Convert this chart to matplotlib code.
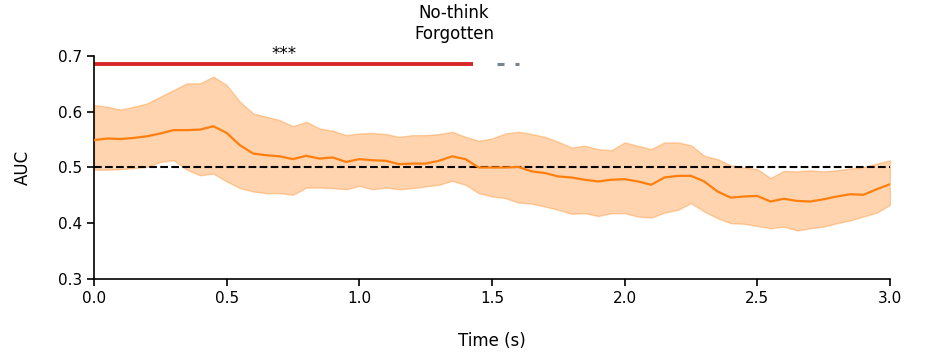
import matplotlib
matplotlib.use("Agg")
import matplotlib.pyplot as plt
import numpy as np

# time axis (s)
times = [0.0, 0.05, 0.1, 0.15, 0.2, 0.25, 0.3, 0.35, 0.4, 0.45, 0.5, 0.55, 0.6, 0.65, 0.7,
         0.75, 0.8, 0.85, 0.9, 0.95, 1.0, 1.05, 1.1, 1.15, 1.2, 1.25, 1.3, 1.35, 1.4, 1.45,
         1.5, 1.55, 1.6, 1.65, 1.7, 1.75, 1.8, 1.85, 1.9, 1.95, 2.0, 2.05, 2.1, 2.15, 2.2,
         2.25, 2.3, 2.35, 2.4, 2.45, 2.5, 2.55, 2.6, 2.65, 2.7, 2.75, 2.8, 2.85, 2.9, 2.95, 3.0]

# mean AUC
auc_mean = [0.549, 0.552, 0.551, 0.553, 0.556, 0.561, 0.567, 0.567, 0.568, 0.574, 0.562, 0.540,
            0.525, 0.522, 0.520,
            0.515, 0.521, 0.516, 0.518, 0.510, 0.515, 0.513, 0.512, 0.506, 0.507, 0.507, 0.512,
            0.520, 0.515, 0.500,
            0.500, 0.500, 0.501, 0.493, 0.490, 0.484, 0.482, 0.478, 0.475, 0.478, 0.479, 0.475,
            0.469, 0.482, 0.485,
            0.485, 0.475, 0.457, 0.446, 0.448, 0.449, 0.439, 0.444, 0.440, 0.439, 0.443, 0.448,
            0.452, 0.451, 0.461, 0.470]

# upper / lower bounds of the shaded band
auc_upper = [0.612, 0.609, 0.604, 0.609, 0.615, 0.627, 0.639, 0.651, 0.651, 0.663, 0.648, 0.618,
             0.597, 0.591, 0.585,
             0.574, 0.582, 0.570, 0.566, 0.558, 0.561, 0.562, 0.560, 0.555, 0.558, 0.558, 0.560,
             0.564, 0.555, 0.548,
             0.552, 0.561, 0.564, 0.560, 0.555, 0.546, 0.536, 0.539, 0.533, 0.531, 0.545, 0.539,
             0.533, 0.545, 0.545,
             0.540, 0.521, 0.515, 0.504, 0.500, 0.497, 0.481, 0.494, 0.493, 0.495, 0.493, 0.495,
             0.498, 0.501, 0.507, 0.513]

auc_lower = [0.496, 0.496, 0.497, 0.499, 0.501, 0.510, 0.513, 0.496, 0.486, 0.489, 0.475, 0.463,
             0.457, 0.454, 0.454,
             0.451, 0.464, 0.464, 0.463, 0.461, 0.467, 0.461, 0.464, 0.461, 0.463, 0.466, 0.469,
             0.476, 0.469, 0.454,
             0.448, 0.445, 0.437, 0.435, 0.430, 0.424, 0.417, 0.418, 0.413, 0.418, 0.418, 0.412,
             0.410, 0.419, 0.424,
             0.436, 0.421, 0.409, 0.400, 0.399, 0.395, 0.391, 0.394, 0.387, 0.391, 0.394, 0.400,
             0.405, 0.412, 0.419, 0.433]

# significance bars (start, end) in s
sig_main = [(0.0, 1.43)]
sig_minor = [(1.52, 1.545), (1.587, 1.603)]
sig_level = 0.686

fig = plt.figure(figsize=(9.36, 3.58), dpi=100)
ax = fig.add_axes([0.1004, 0.2207, 0.8504, 0.6229])

ax.fill_between(times, auc_lower, auc_upper, color="tab:orange", alpha=0.33, linewidth=1)
ax.plot([0, 3], [0.5, 0.5], "k--", linewidth=1.5, zorder=3)
ax.plot(times, auc_mean, color="tab:orange", linewidth=1.6, zorder=4)

for s, e in sig_main:
    ax.plot([s, e], [sig_level, sig_level], color="#d62728", linewidth=2.8, solid_capstyle="butt")
    ax.text((s + e) / 2, sig_level + 0.001, "***", ha="center", va="bottom", fontsize=12)
for s, e in sig_minor:
    ax.plot([s, e], [sig_level, sig_level], color="#778393", linewidth=2.2, solid_capstyle="butt")

ax.set_xlim(0, 3)
ax.set_ylim(0.3, 0.7)
ax.set_xticks(np.arange(0, 3.01, 0.5))
ax.set_yticks([0.3, 0.4, 0.5, 0.6, 0.7])
ax.tick_params(labelsize=11, width=1.2, length=5)
ax.spines["top"].set_visible(False)
ax.spines["right"].set_visible(False)
ax.spines["left"].set_linewidth(1.2)
ax.spines["bottom"].set_linewidth(1.2)

ax.set_xlabel("Time (s)", fontsize=12, labelpad=19)
ax.set_ylabel("AUC", fontsize=12, labelpad=19)
fig.text(0.485, 0.935, "No-think\nForgotten", ha="center", va="center", fontsize=12, linespacing=1.25)

plt.savefig("out.png", dpi=100)
